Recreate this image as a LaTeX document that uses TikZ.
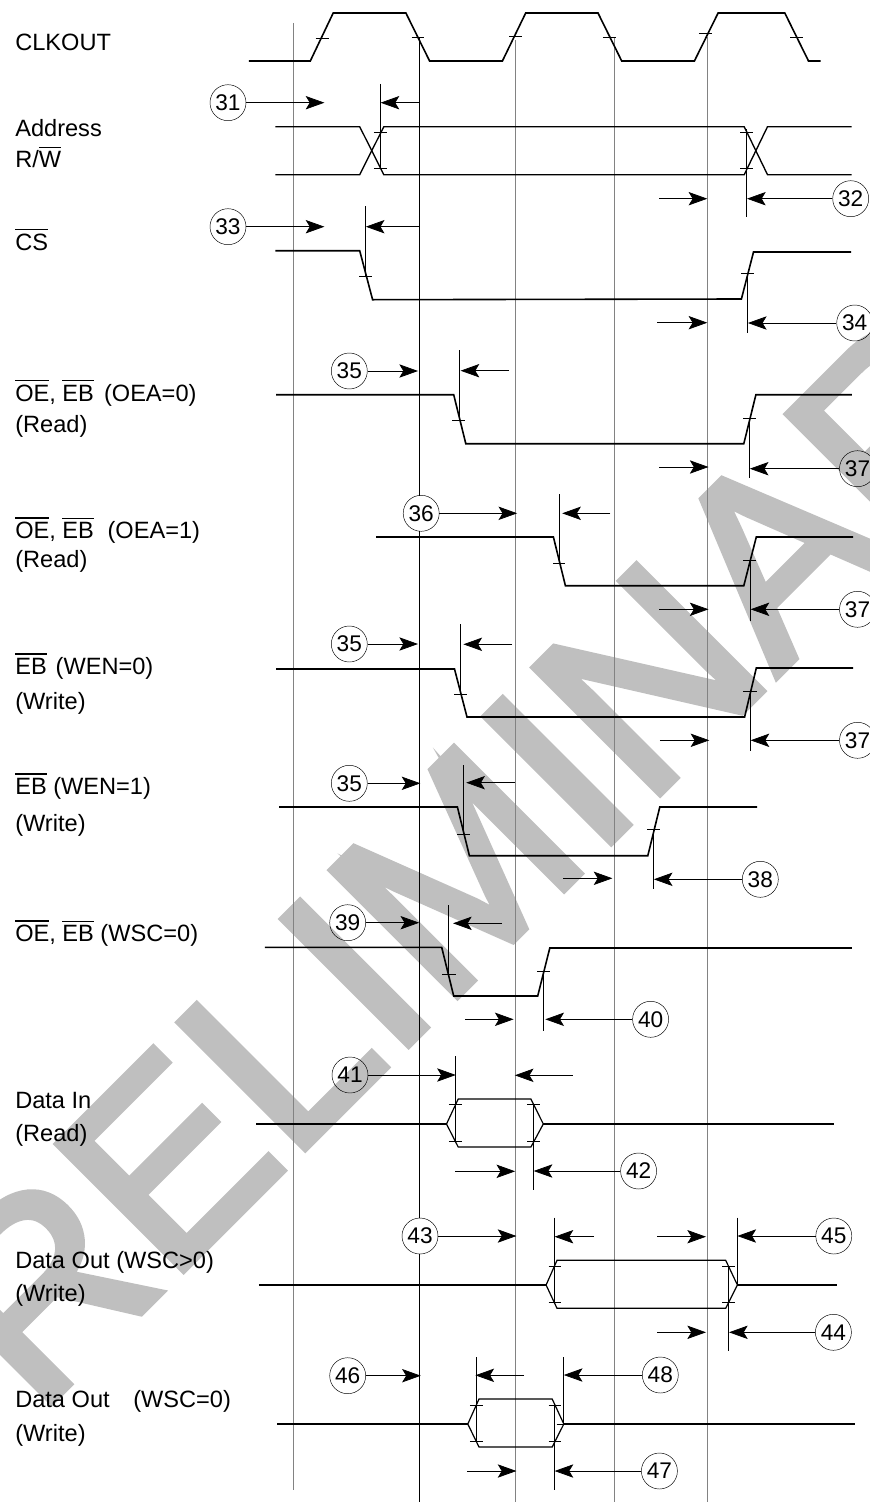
\documentclass[tikz,border=0pt]{standalone}
\usepackage{fontspec}
\setmainfont{Liberation Sans}
\newfontfamily\markfont[FakeBold=3]{Liberation Sans}
\usetikzlibrary{arrows.meta}
\definecolor{grid}{RGB}{130,130,130}
\definecolor{wmark}{RGB}{191,191,191}
\newcommand{\obar}[1]{\vbox{\hrule height 1pt \kern 2.6pt \hbox{#1}}}
\tikzset{
  sig/.style={line width=1.2pt},
  thin line/.style={line width=0.45pt},
  tk/.style={line width=0.45pt},
  dim/.style={line width=0.55pt,-{Stealth[length=14pt,width=10pt,inset=3pt]}},
  tag/.style={draw,circle,line width=0.35pt,inner sep=0pt,minimum size=27pt,font=\fontsize{17}{17}\selectfont},
  lbl/.style={anchor=base west,inner sep=0pt,font=\fontsize{17.7}{17.7}\selectfont}
}
\begin{document}
\begin{tikzpicture}[x=0.75pt,y=-0.75pt]
  \useasboundingbox (0,0) rectangle (870,1502);
  % watermark
  \node[rotate=45,anchor=base west,text=wmark,inner sep=0pt,font=\markfont\fontsize{193.5}{193.5}\selectfont] (mark) at (-85,1538) {PRELIMINARY};
  % grid
  \draw[grid,thin line] (293.4,23) -- (293.4,1490);
  \draw[thin line] (419.6,38) -- (419.6,495.5) (419.6,531) -- (419.6,1218) (419.6,1254) -- (419.6,1502);
  \foreach \gx/\gy in {515.2/40,614.4/38,707.3/37} \draw[grid,thin line] (\gx,\gy) -- (\gx,1502);
  % CLKOUT
  \draw[sig] (248.8,61) -- (310.3,61) -- (333.2,13) -- (405.9,13) -- (429.6,61) -- (502.4,61) -- (525.7,13) -- (598,13) -- (621.7,61) -- (694.4,61) -- (718.1,13) -- (784.8,13) -- (808.5,61) -- (820.6,61);
  \foreach \xa/\xb/\ty in {315.5/328.8/38.3,411.6/424/37.7,509.2/522/36.3,602.8/615.7/37.3,698.8/711.7/33.3,790/802.5/37.3} \draw[tk] (\xa,\ty) -- (\xb,\ty);
  % Address
  \draw[sig,line width=1pt] (275.4,126.7) -- (359.7,126.7) -- (383.8,174.7) -- (744.2,174.7) -- (767.5,126.7) -- (851.5,126.7);
  \draw[sig,line width=1pt] (275.4,174.7) -- (359.7,174.7) -- (383.8,126.7) -- (744.2,126.7) -- (767.5,174.7) -- (851.5,174.7);
  \foreach \xa/\xb/\ty in {373.8/386.6/132.3,373.8/386.6/168.3,740.2/753/132.3,740.2/753/168.3} \draw[tk] (\xa,\ty) -- (\xb,\ty);
  \draw[tk] (380.2,84) -- (380.2,168.3);
  \draw[tk] (746.2,129) -- (746.2,216.7);
  % CS
  \draw[sig] (275.4,250.7) -- (359.7,250.7) -- (372.6,299.7) -- (741.4,299) -- (753.5,252) -- (851,252);
  \foreach \xa/\xb/\ty in {359.3/371.8/276.7,741.4/753.9/273.3} \draw[tk] (\xa,\ty) -- (\xb,\ty);
  \draw[tk] (365.4,206) -- (365.4,276.7);
  \draw[tk] (747.4,273) -- (747.4,333.3);
  % OE EB OEA=0
  \draw[sig] (276.2,394.7) -- (453.7,394.7) -- (465.8,443.7) -- (743.8,443.7) -- (755.9,394.7) -- (851.9,394.7);
  \foreach \xa/\xb/\ty in {452.1/464.6/420.3,743/755.5/418.3} \draw[tk] (\xa,\ty) -- (\xb,\ty);
  \draw[tk] (459.4,350) -- (459.4,420.3);
  \draw[tk] (749.5,418.3) -- (749.5,477.7);
  % OE EB OEA=1
  \draw[sig] (376.2,537) -- (553.4,537) -- (565.4,585.7) -- (743.8,585.7) -- (756.3,537) -- (853.1,537);
  \foreach \xa/\xb/\ty in {553/565.4/563.3,743/756.3/560.3} \draw[tk] (\xa,\ty) -- (\xb,\ty);
  \draw[tk] (559.4,494) -- (559.4,563.3);
  \draw[tk] (750.2,560.3) -- (750.2,620.7);
  % EB WEN=0
  \draw[sig] (276.2,669) -- (454.5,669) -- (467,717) -- (744.6,717) -- (756.3,668) -- (853.1,668);
  \foreach \xa/\xb/\ty in {454.1/467/694.3,743/757/691.3} \draw[tk] (\xa,\ty) -- (\xb,\ty);
  \draw[tk] (460.6,624) -- (460.6,694.3);
  \draw[tk] (750.6,691.3) -- (750.6,750.7);
  % EB WEN=1
  \draw[sig] (279,807) -- (457.4,807) -- (469.4,855.7) -- (647.8,855.7) -- (659.8,807) -- (757,807);
  \foreach \xa/\xb/\ty in {457/469.8/834.7,647/659.8/829.3} \draw[tk] (\xa,\ty) -- (\xb,\ty);
  \draw[tk] (463.4,765) -- (463.4,834.7);
  \draw[tk] (653.4,829.3) -- (653.4,889.3);
  % OE EB WSC=0
  \draw[sig] (264.9,947.3) -- (441.7,947.3) -- (453.7,996) -- (537.7,996) -- (549.8,948) -- (851.9,948);
  \foreach \xa/\xb/\ty in {442.1/455.8/974.3,537.3/550.2/971.3} \draw[tk] (\xa,\ty) -- (\xb,\ty);
  \draw[tk] (448.5,905) -- (448.5,974.3);
  \draw[tk] (543.3,971.3) -- (543.3,1030.7);
  % Data In
  \draw[sig] (256,1124) -- (446.5,1124);
  \draw[sig] (543.3,1124) -- (833.8,1124);
  \draw[sig,line width=0.9pt] (446.5,1124) -- (458.2,1099) -- (530.9,1099) -- (543.3,1124) -- (530.9,1147) -- (458.2,1147) -- cycle;
  \foreach \xa/\xb/\ty in {448.9/462.2/1104,448.9/462.2/1141.3,527.3/540.1/1104,527.3/540.1/1141.3} \draw[tk] (\xa,\ty) -- (\xb,\ty);
  \draw[tk] (455.3,1056) -- (455.3,1141.7);
  \draw[tk] (533.3,1104) -- (533.3,1190);
  % Data Out
  \draw[sig] (258.9,1285) -- (546.1,1285);
  \draw[sig] (737.4,1285) -- (837,1285);
  \draw[sig,line width=0.9pt] (546.1,1285) -- (557,1260.3) -- (725.7,1260.3) -- (737.4,1285) -- (725.7,1308.3) -- (557,1308.3) -- cycle;
  \foreach \xa/\xb/\ty in {548.6/561.4/1266,548.6/561.4/1302.7,722.1/735/1266,722.1/735/1302.7} \draw[tk] (\xa,\ty) -- (\xb,\ty);
  \draw[tk] (554.6,1217.7) -- (554.6,1302.7);
  \draw[tk] (737.4,1217.7) -- (737.4,1285);
  \draw[tk] (728.5,1266) -- (728.5,1350.7);
  % Data Out WSC=0
  \draw[sig] (277,1424) -- (467.8,1424);
  \draw[sig] (563.8,1424) -- (855.1,1424);
  \draw[sig,line width=0.9pt] (467.8,1424) -- (479,1399) -- (552.2,1399) -- (563.8,1424) -- (552.2,1447) -- (479,1447) -- cycle;
  \foreach \xa/\xb/\ty in {469.8/483/1405.3,469.8/483/1441.3,548.6/561.4/1405.3,548.6/561.4/1441.3,556.5/564/1424} \draw[tk] (\xa,\ty) -- (\xb,\ty);
  \draw[tk] (476.2,1357) -- (476.2,1441.7);
  \draw[tk] (563.4,1357) -- (563.4,1424);
  \draw[tk] (554.6,1405.3) -- (554.6,1490);
  % numbered tags
  \foreach \nm/\tx/\ty/\tn in {t31/228/102.7/31,t32/850.7/198.7/32,t33/228/226.7/33,t34/854.7/323/34,ta/349.3/371/35,tb/857.5/468.7/37,t36/421.2/513.3/36,tc/857.5/609.3/37,td/349.3/644/35,te/857.5/740.3/37,tf/349.3/783.3/35,t38/760.3/879.3/38,t39/347.7/922.7/39,t40/650.6/1019.3/40,t41/350/1075/41,t42/638.6/1171/42,t43/420/1236/43,t45/833.8/1236/45,t44/833.4/1332.3/44,t46/347.7/1375.7/46,t48/660.3/1375/48,t47/659.4/1471/47}
    \node[tag] (\nm) at (\tx,\ty) {\tn};
  % arrows from tags
  \foreach \nm/\ex/\ey in {t31/324.4/102.7,t33/324.4/226.7,ta/418/371,t36/517.2/513.3,td/418/644,tf/420.4/783.3,t39/419.2/922.7,t41/455.8/1075,t43/516.4/1236,t46/420.8/1375.7,t32/747/198.7,t34/747.9/323,tb/749.8/468.7,tc/750.6/609.3,te/750.6/740.3,t38/653.8/879.3,t40/545.3/1019.3,t42/533.7/1171,t45/737.4/1236,t44/729/1332.3,t48/563.8/1375,t47/554.6/1471} {
    \coordinate (\nm e) at (\ex,\ey);
    \draw[dim] (\nm) -- (\nm e);
  }
  % free arrows
  \foreach \ax/\ay/\bx/\by in {419.6/102.7/380.6/102.7,419.6/226.7/365.8/226.7,509.2/370.7/460.6/370.7,610.4/513.3/562.2/513.3,512/644.3/463.4/644.3,515.2/782.7/466.2/782.7,502/923.3/453/923.3,572.7/1075.3/514.8/1075.3,594/1236.7/554.6/1236.7,524/1375.3/475.4/1375.3,659/198.7/707.3/198.7,657/322.7/707.3/322.7,659/467/708.5/467,659/609.3/708.5/609.3,659.8/740.3/709.3/740.3,563/878.3/612.4/878.3,465/1019.3/513.6/1019.3,455/1171.3/515.2/1171.3,657/1236.7/706/1236.7,657/1332.3/706/1332.3,467/1471/516.4/1471} {
    \coordinate (p) at (\ax,\ay);
    \coordinate (q) at (\bx,\by);
    \draw[dim] (p) -- (q);
  }
  % labels
  \node[lbl] (clk) at (15,51) {CLKOUT};
  \node[lbl] (addr) at (15,136) {Address};
  \node[lbl] (rw) at (15,167.7) {R/\obar{W}};
  \node[lbl] (cs) at (15,250) {\obar{CS}};
  \node[lbl] (oea) at (15,401) {\obar{OE}, \obar{EB}\hspace{0.15em} (OEA=0)};
  \node[lbl] (ra) at (15,432.7) {(Read)};
  \node[lbl] (oeb) at (15,538.7) {\obar{OE}, \obar{EB}\hspace{0.3em} (OEA=1)};
  \node[lbl] (rb) at (15,567.7) {(Read)};
  \node[lbl] (wena) at (15,674.3) {\obar{EB}\hspace{0.1em} (WEN=0)};
  \node[lbl] (wa) at (15,709) {(Write)};
  \node[lbl] (wenb) at (15,794.3) {\obar{EB} (WEN=1)};
  \node[lbl] (wb) at (15,831.7) {(Write)};
  \node[lbl] (wsc) at (15,941.7) {\obar{OE}, \obar{EB} (WSC=0)};
  \node[lbl] (din) at (15,1108.3) {Data In};
  \node[lbl] (rc) at (15,1141) {(Read)};
  \node[lbl] (dout) at (15,1268) {Data Out (WSC>0)};
  \node[lbl] (wc) at (15,1301.7) {(Write)};
  \node[lbl] (doutb) at (15,1407) {Data Out\hspace{1em}(WSC=0)};
  \node[lbl] (wd) at (15,1441.7) {(Write)};
\end{tikzpicture}
\end{document}
